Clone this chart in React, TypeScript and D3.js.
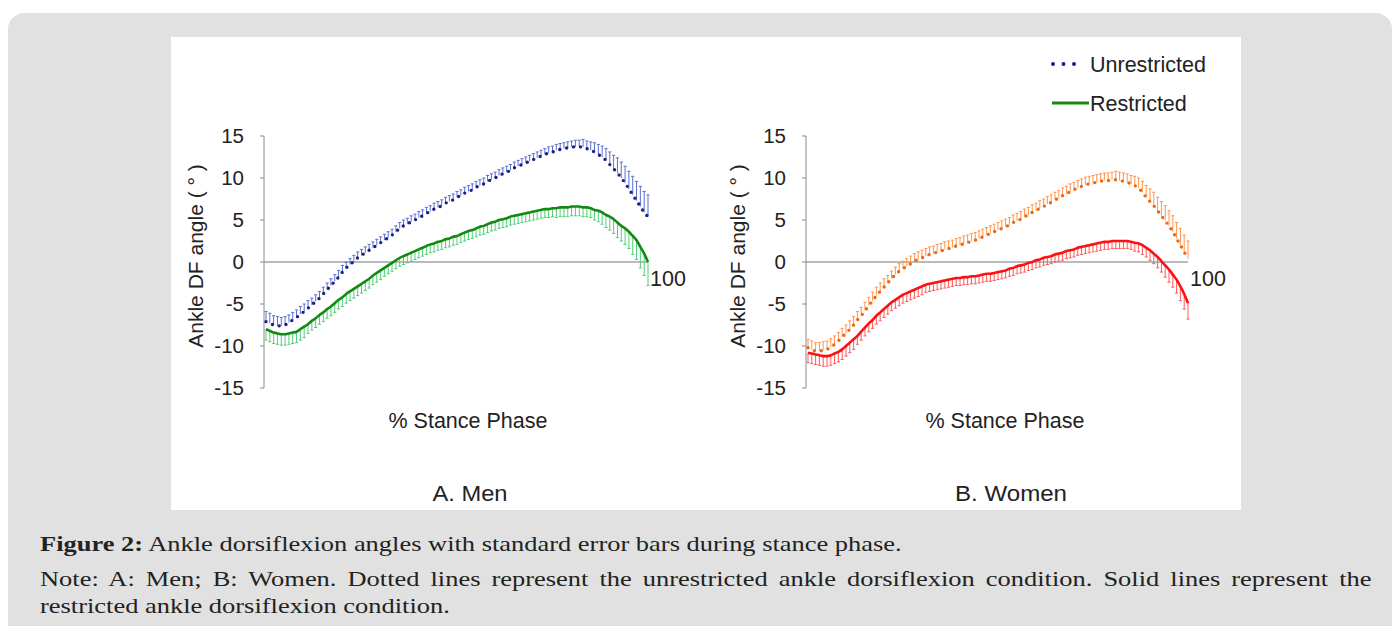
import React, { useLayoutEffect, useRef, useState } from "react";
import * as d3 from "d3";

// % stance phase (0..100)
const stance: number[] = d3.range(0, 101);
const yTicks: number[] = [15, 10, 5, 0, -5, -10, -15];

// Men – unrestricted (dotted, error bars upward)
const menUnres: number[] = [
  -7.1, -7.3, -7.5, -7.6, -7.6, -7.5, -7.2, -6.9, -6.6, -6.2,
  -5.9, -5.5, -5.1, -4.7, -4.3, -3.8, -3.3, -2.8, -2.3, -1.8,
  -1.2, -0.7, -0.3, 0.1, 0.5, 0.8, 1.1, 1.4, 1.7, 2.0,
  2.3, 2.6, 2.9, 3.2, 3.6, 4.0, 4.3, 4.5, 4.8, 5.0,
  5.3, 5.5, 5.8, 6.0, 6.3, 6.5, 6.7, 7.0, 7.2, 7.4,
  7.7, 7.9, 8.2, 8.4, 8.6, 8.9, 9.1, 9.3, 9.6, 9.8,
  10.0, 10.3, 10.5, 10.7, 10.9, 11.2, 11.4, 11.6, 11.8, 12.0,
  12.2, 12.4, 12.6, 12.8, 13.0, 13.1, 13.3, 13.4, 13.5, 13.6,
  13.7, 13.7, 13.7, 13.7, 13.5, 13.3, 13.1, 12.8, 12.5, 12.1,
  11.6, 11.1, 10.6, 10.0, 9.4, 8.7, 8.0, 7.3, 6.6, 5.9,
  5.4,
];
const menUnresSE: number[] = [
  1.2, 1.2, 1.1, 1.1, 1.0, 1.0, 0.9, 0.9, 0.9, 0.9,
  0.9, 0.9, 0.8, 0.8, 0.8, 0.8, 0.8, 0.8, 0.8, 0.8,
  0.8, 0.7, 0.7, 0.7, 0.7, 0.7, 0.7, 0.7, 0.7, 0.7,
  0.7, 0.7, 0.7, 0.7, 0.7, 0.7, 0.7, 0.7, 0.7, 0.7,
  0.7, 0.7, 0.7, 0.7, 0.7, 0.7, 0.7, 0.7, 0.7, 0.7,
  0.7, 0.7, 0.7, 0.7, 0.7, 0.7, 0.7, 0.7, 0.7, 0.7,
  0.7, 0.7, 0.7, 0.7, 0.7, 0.7, 0.7, 0.7, 0.7, 0.7,
  0.7, 0.7, 0.7, 0.7, 0.7, 0.7, 0.7, 0.7, 0.7, 0.7,
  0.7, 0.8, 0.8, 0.9, 0.9, 1.0, 1.1, 1.2, 1.3, 1.4,
  1.5, 1.6, 1.8, 1.9, 2.0, 2.1, 2.2, 2.3, 2.4, 2.5,
  2.6,
];

// Men – restricted (solid, error bars downward)
const menRes: number[] = [
  -8.0, -8.2, -8.4, -8.5, -8.6, -8.6, -8.5, -8.4, -8.3, -8.0,
  -7.7, -7.4, -7.0, -6.7, -6.3, -6.0, -5.6, -5.3, -4.9, -4.5,
  -4.2, -3.8, -3.5, -3.2, -2.9, -2.6, -2.3, -2.0, -1.6, -1.3,
  -1.0, -0.7, -0.4, -0.1, 0.2, 0.5, 0.7, 0.9, 1.1, 1.3,
  1.5, 1.7, 1.9, 2.1, 2.2, 2.4, 2.5, 2.7, 2.8, 3.0,
  3.1, 3.3, 3.5, 3.7, 3.8, 4.0, 4.2, 4.3, 4.5, 4.7,
  4.8, 5.0, 5.1, 5.2, 5.4, 5.5, 5.6, 5.7, 5.8, 5.9,
  6.0, 6.1, 6.2, 6.3, 6.3, 6.4, 6.4, 6.5, 6.5, 6.5,
  6.6, 6.6, 6.6, 6.5, 6.5, 6.4, 6.2, 6.1, 5.9, 5.6,
  5.4, 5.1, 4.7, 4.3, 4.0, 3.6, 3.1, 2.6, 1.8, 1.0,
  0.0,
];
const menResSE: number[] = [
  1.3, 1.3, 1.3, 1.3, 1.3, 1.3, 1.3, 1.3, 1.3, 1.3,
  1.3, 1.1, 1.1, 1.1, 1.1, 1.1, 1.1, 1.1, 1.1, 1.1,
  1.1, 1.1, 1.1, 1.1, 1.1, 1.1, 1.1, 1.1, 1.1, 1.1,
  1.1, 1.0, 1.0, 1.0, 1.0, 1.0, 1.0, 1.0, 1.0, 1.0,
  1.0, 1.0, 1.0, 1.0, 1.0, 1.0, 1.0, 1.0, 1.0, 1.0,
  1.0, 1.0, 1.0, 1.0, 1.0, 1.0, 1.0, 1.0, 1.0, 1.0,
  1.0, 1.0, 1.0, 1.0, 1.0, 1.0, 1.0, 1.0, 1.0, 1.0,
  1.0, 1.0, 1.0, 1.0, 1.0, 1.0, 1.1, 1.1, 1.1, 1.1,
  1.1, 1.1, 1.1, 1.1, 1.1, 1.1, 1.2, 1.3, 1.4, 1.5,
  1.6, 1.7, 1.8, 1.8, 1.9, 2.0, 2.2, 2.3, 2.5, 2.6,
  2.8,
];

// Women – unrestricted (dotted, error bars upward)
const womenUnres: number[] = [
  -10.2, -10.4, -10.6, -10.6, -10.5, -10.4, -10.1, -9.8, -9.4, -8.9,
  -8.5, -8.0, -7.5, -6.9, -6.4, -5.8, -5.2, -4.6, -4.0, -3.5,
  -3.0, -2.5, -2.0, -1.5, -1.1, -0.8, -0.5, -0.2, 0.1, 0.3,
  0.5, 0.7, 0.9, 1.0, 1.2, 1.3, 1.5, 1.6, 1.7, 1.9,
  2.0, 2.2, 2.3, 2.5, 2.6, 2.8, 3.0, 3.2, 3.4, 3.6,
  3.8, 4.0, 4.2, 4.4, 4.7, 4.9, 5.1, 5.4, 5.6, 5.9,
  6.1, 6.4, 6.6, 6.9, 7.1, 7.4, 7.6, 7.9, 8.1, 8.4,
  8.6, 8.8, 9.0, 9.2, 9.3, 9.4, 9.5, 9.6, 9.7, 9.7,
  9.8, 9.8, 9.7, 9.6, 9.5, 9.3, 9.1, 8.8, 8.3, 7.7,
  7.2, 6.7, 6.1, 5.5, 4.9, 4.3, 3.6, 2.8, 2.0, 1.2,
  0.4,
];
const womenUnresSE: number[] = [
  1.0, 1.0, 1.0, 1.0, 1.0, 1.0, 1.0, 1.0, 1.0, 1.0,
  1.0, 1.0, 1.0, 1.0, 1.0, 1.0, 1.0, 1.0, 1.0, 1.0,
  1.0, 0.9, 0.9, 0.9, 0.9, 0.9, 0.9, 0.9, 0.9, 0.9,
  0.9, 0.9, 0.9, 0.9, 0.9, 0.9, 0.9, 0.9, 0.9, 0.9,
  0.9, 0.9, 0.9, 0.9, 0.9, 0.9, 0.9, 0.9, 0.9, 0.9,
  0.9, 0.9, 0.9, 0.9, 0.9, 0.9, 0.9, 0.9, 0.9, 0.9,
  0.9, 0.9, 0.9, 0.9, 0.9, 0.9, 0.9, 0.9, 0.9, 0.9,
  0.9, 0.9, 0.9, 0.9, 0.9, 0.9, 0.9, 0.9, 0.9, 0.9,
  0.9, 1.0, 1.0, 1.0, 1.0, 1.0, 1.1, 1.2, 1.3, 1.4,
  1.5, 1.6, 1.6, 1.7, 1.8, 1.8, 1.9, 1.9, 2.0, 2.0,
  2.1,
];

// Women – restricted (solid, error bars downward)
const womenRes: number[] = [
  -10.8, -10.9, -11.0, -11.1, -11.2, -11.2, -11.1, -10.9, -10.7, -10.4,
  -10.0, -9.6, -9.2, -8.8, -8.3, -7.8, -7.3, -6.9, -6.4, -6.0,
  -5.6, -5.2, -4.8, -4.5, -4.2, -3.9, -3.7, -3.5, -3.3, -3.1,
  -2.9, -2.7, -2.6, -2.5, -2.4, -2.3, -2.2, -2.1, -2.0, -1.9,
  -1.9, -1.8, -1.8, -1.7, -1.7, -1.6, -1.5, -1.4, -1.4, -1.3,
  -1.2, -1.1, -1.0, -0.8, -0.7, -0.5, -0.4, -0.3, -0.1, 0.0,
  0.2, 0.3, 0.5, 0.6, 0.7, 0.9, 1.0, 1.1, 1.3, 1.4,
  1.5, 1.7, 1.8, 1.9, 2.0, 2.1, 2.2, 2.3, 2.4, 2.4,
  2.5, 2.5, 2.5, 2.5, 2.5, 2.4, 2.3, 2.2, 2.0, 1.7,
  1.4, 1.0, 0.6, 0.1, -0.4, -0.9, -1.5, -2.1, -2.9, -3.8,
  -4.9,
];
const womenResSE: number[] = [
  1.2, 1.2, 1.2, 1.2, 1.2, 1.2, 1.2, 1.2, 1.2, 1.2,
  1.2, 1.2, 1.2, 1.0, 1.0, 1.0, 1.0, 1.0, 1.0, 1.0,
  1.0, 1.0, 1.0, 1.0, 1.0, 1.0, 1.0, 1.0, 1.0, 1.0,
  1.0, 0.9, 0.9, 0.9, 0.9, 0.9, 0.9, 0.9, 0.9, 0.9,
  0.9, 0.9, 0.9, 0.9, 0.9, 0.9, 0.9, 0.9, 0.9, 0.9,
  0.9, 0.9, 0.9, 0.9, 0.9, 0.9, 0.9, 0.9, 0.9, 0.9,
  0.9, 0.9, 0.9, 0.9, 0.9, 0.9, 0.9, 0.9, 0.9, 0.9,
  0.9, 0.9, 0.9, 0.9, 0.9, 0.9, 0.9, 0.9, 0.9, 0.9,
  0.9, 0.9, 0.9, 0.9, 0.9, 0.9, 1.0, 1.0, 1.1, 1.1,
  1.2, 1.2, 1.3, 1.3, 1.4, 1.5, 1.5, 1.6, 1.7, 1.8,
  1.9,
];

const captionLine1Rest = " Ankle dorsiflexion angles with standard error bars during stance phase.";
const captionLine2 =
  "Note: A: Men; B: Women. Dotted lines represent the unrestricted ankle dorsiflexion condition. Solid lines represent the";
const captionLine3 = "restricted ankle dorsiflexion condition.";

const FONT = "'Liberation Sans', Arial, sans-serif";
const SERIF = "'Liberation Serif', 'Times New Roman', serif";

type PanelProps = {
  axisX: number;
  x0: number;
  x1: number;
  unres: number[];
  unresSE: number[];
  res: number[];
  resSE: number[];
  dotColor: string;
  unresBarColor: string;
  lineColor: string;
  resBarColor: string;
  title: string;
  titleX: number;
  titleLen: number;
  stanceX: number;
};

function Panel(p: PanelProps) {
  const x = d3.scaleLinear().domain([0, 100]).range([p.x0, p.x1]);
  const y = d3.scaleLinear().domain([-15, 15]).range([388, 136]);
  const line = d3
    .line<number>()
    .x((_, i) => x(stance[i]))
    .y((d) => y(d))
    .curve(d3.curveMonotoneX);
  const cap = 1.6;
  return (
    <g>
      <line x1={p.axisX} x2={p.axisX} y1={y(15)} y2={y(-15)} stroke="#8a8a8a" strokeWidth={1} />
      {yTicks.map((t) => (
        <g key={t}>
          <line x1={p.axisX - 4} x2={p.axisX} y1={y(t)} y2={y(t)} stroke="#8a8a8a" strokeWidth={1} />
          <text
            x={p.axisX - 20}
            y={y(t)}
            dy="0.36em"
            textAnchor="end"
            fontFamily={FONT}
            fontSize={20.5}
            fill="#222"
          >
            {t}
          </text>
        </g>
      ))}
      <line x1={p.axisX} x2={x(100)} y1={y(0)} y2={y(0)} stroke="#777" strokeWidth={1.2} />
      <text x={x(100) + 2} y={y(0) + 16} dy="0.36em" fontFamily={FONT} fontSize={21.5} fill="#222">
        100
      </text>
      <text
        transform={`translate(${p.axisX - 69},256) rotate(-90)`}
        textAnchor="middle"
        dy="0.36em"
        fontFamily={FONT}
        fontSize={21}
        fill="#222"
      >
        Ankle DF angle ( ° )
      </text>
      {p.unres.map((v, i) => {
        const xx = x(stance[i]);
        const yt = y(v + p.unresSE[i]);
        return (
          <g key={"u" + i} stroke={p.unresBarColor} strokeWidth={1}>
            <line x1={xx} x2={xx} y1={y(v)} y2={yt} />
            <line x1={xx - cap} x2={xx + cap} y1={yt} y2={yt} />
          </g>
        );
      })}
      {p.res.map((v, i) => {
        const xx = x(stance[i]);
        const yb = y(v - p.resSE[i]);
        return (
          <g key={"r" + i} stroke={p.resBarColor} strokeWidth={1}>
            <line x1={xx} x2={xx} y1={y(v)} y2={yb} />
            <line x1={xx - cap} x2={xx + cap} y1={yb} y2={yb} />
          </g>
        );
      })}
      <path
        d={line(p.unres) || ""}
        fill="none"
        stroke={p.dotColor}
        strokeWidth={3.4}
        strokeLinecap="round"
        strokeDasharray="0 7"
      />
      <path d={line(p.res) || ""} fill="none" stroke={p.lineColor} strokeWidth={2.6} />
      <text
        x={p.stanceX}
        y={420}
        dy="0.36em"
        textAnchor="middle"
        fontFamily={FONT}
        fontSize={21.5}
        fill="#222"
        textLength={159}
        lengthAdjust="spacingAndGlyphs"
      >
        % Stance Phase
      </text>
      <text
        x={p.titleX}
        y={493}
        dy="0.36em"
        textAnchor="middle"
        fontFamily={FONT}
        fontSize={22}
        fill="#222"
        textLength={p.titleLen}
        lengthAdjust="spacingAndGlyphs"
      >
        {p.title}
      </text>
    </g>
  );
}

export default function App() {
  const r1 = useRef<SVGTextElement>(null);
  const r2 = useRef<SVGTextElement>(null);
  const [fit, setFit] = useState({ s: 1, ws: 0 });

  useLayoutEffect(() => {
    if (!r1.current || !r2.current) return;
    const l1 = r1.current.getComputedTextLength();
    const s = l1 > 0 ? 862 / l1 : 1;
    const l2 = r2.current.getComputedTextLength();
    const spaces = (captionLine2.match(/ /g) || []).length;
    const ws = (1332 / s - l2) / spaces;
    setFit({ s, ws });
  }, []);

  return (
    <svg width={1394} height={626} style={{ position: "absolute", left: 0, top: 0, display: "block" }}>
      <rect x={0} y={0} width={1394} height={626} fill="#ffffff" />
      <rect x={8} y={13} width={1384} height={700} rx={16} ry={16} fill="#e1e1e1" />
      <rect x={171} y={37} width={1070} height={473} fill="#ffffff" />

      <Panel
        axisX={264}
        x0={266}
        x1={648}
        unres={menUnres}
        unresSE={menUnresSE}
        res={menRes}
        resSE={menResSE}
        dotColor="#1b1f8a"
        unresBarColor="#5b6fcf"
        lineColor="#128a12"
        resBarColor="#52cf78"
        title="A. Men"
        titleX={470}
        titleLen={75}
        stanceX={468}
      />
      <Panel
        axisX={806}
        x0={808}
        x1={1188}
        unres={womenUnres}
        unresSE={womenUnresSE}
        res={womenRes}
        resSE={womenResSE}
        dotColor="#f0650f"
        unresBarColor="#ff954a"
        lineColor="#ff1010"
        resBarColor="#ff5a5a"
        title="B. Women"
        titleX={1011}
        titleLen={112}
        stanceX={1005}
      />

      {/* legend */}
      <line
        x1={1053}
        x2={1075}
        y1={64}
        y2={64}
        stroke="#1b1f8a"
        strokeWidth={4}
        strokeLinecap="round"
        strokeDasharray="0 10.5"
      />
      <text x={1090} y={64} dy="0.36em" fontFamily={FONT} fontSize={21.5} fill="#222">
        Unrestricted
      </text>
      <line x1={1052} x2={1089} y1={103} y2={103} stroke="#128a12" strokeWidth={3} />
      <text x={1090} y={103} dy="0.36em" fontFamily={FONT} fontSize={21.5} fill="#222">
        Restricted
      </text>

      {/* caption */}
      <g transform={`translate(40,0) scale(${fit.s},1)`} fontFamily={SERIF} fontSize={21} fill="#222">
        <text ref={r1} x={0} y={551}>
          <tspan fontWeight="bold">Figure 2:</tspan>
          {captionLine1Rest}
        </text>
        <text ref={r2} x={0} y={586} style={{ wordSpacing: `${fit.ws}px` }}>
          {captionLine2}
        </text>
        <text x={0} y={613}>
          {captionLine3}
        </text>
      </g>
    </svg>
  );
}
